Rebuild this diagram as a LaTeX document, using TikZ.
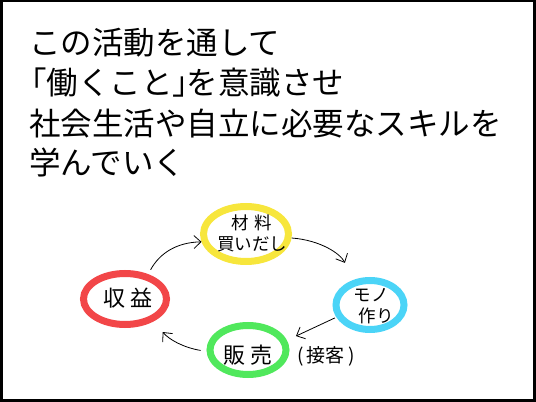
\documentclass[tikz,border=0pt]{standalone}
\usepackage{fontspec}
\setmainfont{Noto Sans CJK JP}
\usetikzlibrary{arrows.meta,shapes.geometric}

\definecolor{ringyellow}{RGB}{247,230,60}
\definecolor{ringblue}{RGB}{75,212,247}
\definecolor{ringgreen}{RGB}{80,232,92}
\definecolor{ringred}{RGB}{242,70,72}

\begin{document}
\begin{tikzpicture}[
    x=1pt, y=1pt,
    >={Straight Barb[length=7pt,width=13pt]},
    headline/.style={
        anchor=base west,
        inner sep=0pt,
        font=\fontsize{31.5}{31.5}\selectfont
    },
    ring/.style={
        ellipse,
        draw=#1,
        line width=7pt,
        inner sep=0pt
    },
    word/.style={
        inner sep=0pt,
        align=center,
        font=\fontsize{17.5}{21}\selectfont
    },
    cycle/.style={
        ->,
        line width=0.8pt
    }
]

\useasboundingbox (0,0) rectangle (536,402);

% ---- Frame ----
\draw[line width=2.6pt] (1.3,1.5) rectangle (534.5,400.8);

% ---- Headline ----
\node[headline] (line1) at (29,347) {この活動を通して};
\node[headline] (line2) at (29,307) {\kern-0.45em「働くこと」\kern-0.55em を意識させ};
\node[headline] (line3) at (29,266) {社会生活や自立に必要なスキルを};
\node[headline] (line4) at (29,227) {学んでいく};

% ---- Rings of the cycle ----
\node[ring=ringyellow, minimum width=85, minimum height=55] (kaidashi) at (246,168) {};
\node[ring=ringblue,   minimum width=68, minimum height=49] (mono)     at (370,97)  {};
\node[ring=ringgreen,  minimum width=76, minimum height=49] (hanbai)   at (248,52)  {};
\node[ring=ringred,    minimum width=83, minimum height=51] (shueki)   at (125,103) {};

% ---- Words inside the rings ----
\node[word] (kaidashi-txt) at (252,169) {材\hspace{0.3em}料\\買いだし};
\node[word] (mono-txt)     at (371,96)  {モノ\\\hspace{0.6em}作り};
\node[word, font=\fontsize{22}{22}\selectfont] (hanbai-txt) at (248,47)  {販\hspace{0.2em}売};
\node[word, font=\fontsize{19}{19}\selectfont] (sekkyaku)   at (326,46)  {(\,接客\,)};
\node[word, font=\fontsize{22}{22}\selectfont] (shueki-txt) at (128,104) {収\hspace{0.2em}益};

% ---- Arrows round the cycle ----
\draw[cycle, shorten <=5pt] (shueki.47) to[bend left=30] (kaidashi.190);
\draw[cycle, shorten >=19pt] (kaidashi.-5) to[bend left=30] (mono.124);
\draw[cycle, shorten <=1.5pt, shorten >=10pt] (mono.200) -- (hanbai.14);
\draw[cycle, shorten <=6pt, shorten >=14pt] (hanbai.182) to[bend left=20] (shueki.-38);

\end{tikzpicture}
\end{document}
